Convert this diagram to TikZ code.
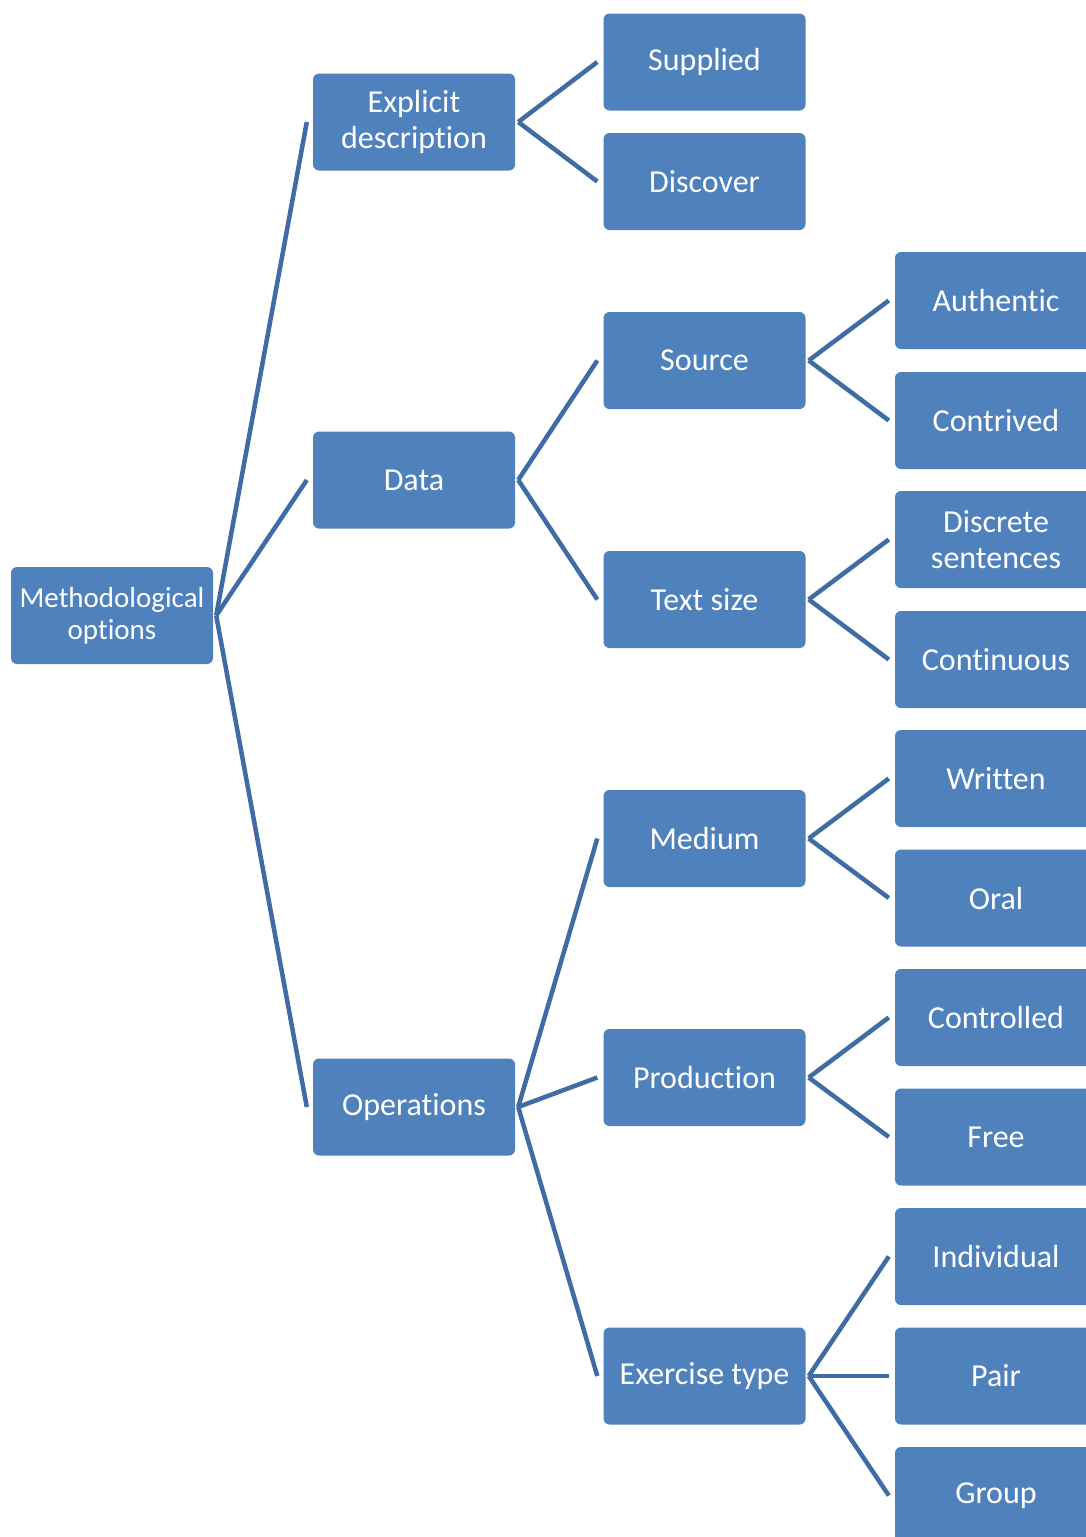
\documentclass[tikz,border=0pt]{standalone}
\usepackage{fontspec}
\setmainfont{Carlito}[Ligatures=NoCommon]
\usetikzlibrary{calc}
\newcommand{\zk}{\kern0pt }
\definecolor{boxblue}{HTML}{4F81BD}
\definecolor{linkblue}{HTML}{3F6CA3}
\tikzset{
  box/.style={fill=boxblue, draw=none, rounded corners=6pt, minimum width=202pt, minimum height=97pt,
    inner sep=0pt, text=white, align=center, font=\fontsize{32}{36}\selectfont},
  rootbox/.style={box, font=\fontsize{29}{32}\selectfont},
  link/.style={draw=linkblue, line width=4.5pt, line join=miter}
}
\begin{document}
\begin{tikzpicture}[x=1pt,y=-1pt]
\clip (0,0) rectangle (1086,1537);
\fill[white] (0,0) rectangle (1086,1537);
% level 1
\node[rootbox] (root) at (112,615.5) {Methodological\\options};
% level 2
\node[box] (expl) at (414,122) {Explicit\\descript\zk ion};
\node[box] (data) at (414,480) {Data};
\node[box] (oper) at (414,1107) {Operations};
% level 3
\node[box] (supp) at (704.5,62) {Supplied};
\node[box] (disc) at (704.5,181.5) {Discover};
\node[box] (sour) at (704.5,360.5) {Source};
\node[box] (tsize) at (704.5,599.5) {Text size};
\node[box] (medi) at (704.5,838.5) {Medium};
\node[box] (prod) at (704.5,1077.5) {Product\zk ion};
\node[box] (exer) at (704.5,1376) {Exercise type};
% level 4
\node[box] (auth) at (996,300.5) {Authent\zk ic};
\node[box] (cont) at (996,420.5) {Contrived};
\node[box] (dsen) at (996,539.5) {Discrete\\sentences};
\node[box] (cnts) at (996,659.5) {Cont\zk inuous};
\node[box] (writ) at (996,778.5) {Written};
\node[box] (oral) at (996,898) {Oral};
\node[box] (ctrl) at (996,1017.5) {Controlled};
\node[box] (free) at (996,1137) {Free};
\node[box] (indi) at (996,1256.5) {Individual};
\node[box] (pair) at (996,1376) {Pair};
\node[box] (grou) at (996,1495.5) {Group};
% connectors
\foreach \p/\c in {root/expl, root/data, root/oper,
                   expl/supp, expl/disc,
                   data/sour, data/tsize,
                   oper/medi, oper/prod, oper/exer,
                   sour/auth, sour/cont,
                   tsize/dsen, tsize/cnts,
                   medi/writ, medi/oral,
                   prod/ctrl, prod/free,
                   exer/indi, exer/pair, exer/grou}
  \draw[link] ($(\p.east)+(3,0)$) -- ($(\c.west)+(-6,0)$);
\end{tikzpicture}
\end{document}
